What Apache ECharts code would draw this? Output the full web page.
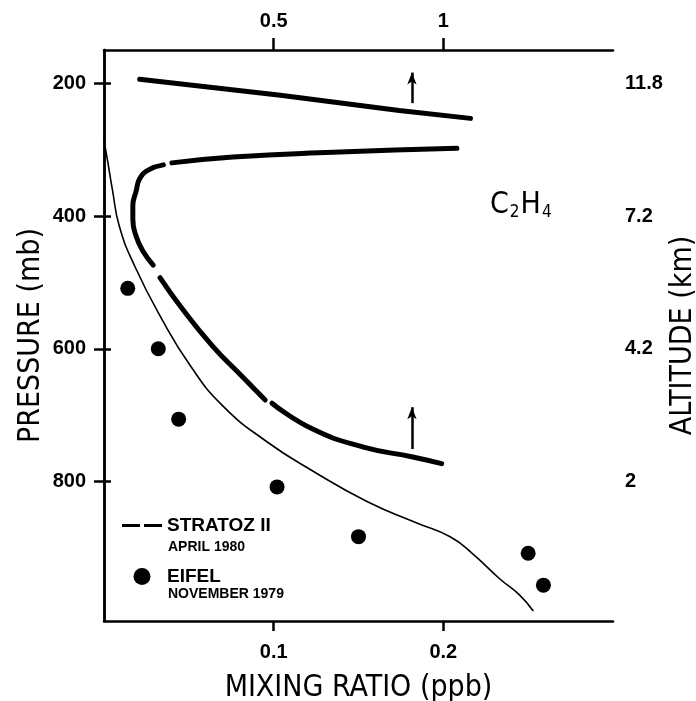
<!DOCTYPE html>
<html>
<head>
<meta charset="utf-8">
<title>C2H4 mixing ratio</title>
<script src="https://cdn.jsdelivr.net/npm/echarts@6/dist/echarts.min.js"></script>
<style>
  html, body { margin: 0; padding: 0; background: #fff; }
  #chart { width: 696px; height: 701px; }
</style>
</head>
<body>
<div id="chart"></div>
<script>
// mixing ratio (ppb) vs pressure (mb)
const pressureTicks = [200, 400, 600, 800]
const altitudeTicks = ['11.8', '7.2', '4.2', '2']
const bottomTicks = [0.1, 0.2]
const topTicks = [0.5, 1]

// STRATOZ II, upper branch (solid)
const stratozTop = [[0.021, 194], [0.104, 218], [0.174, 241], [0.216, 253]]
// STRATOZ II, lower branch ('-' = gap between dashes)
const stratozLower = [
  [0.208, 298], [0.135, 304], [0.076, 311], [0.040, 320],
  ['-', '-'],
  [0.035, 323], [0.026, 331], [0.021, 344], [0.019, 362], [0.017, 385], [0.017, 405], [0.019, 431], [0.023, 453], [0.029, 474],
  ['-', '-'],
  [0.033, 493], [0.045, 536], [0.064, 596], [0.080, 638], [0.095, 677],
  ['-', '-'],
  [0.099, 682], [0.123, 721], [0.153, 748], [0.182, 763], [0.199, 773]
]
// thin curve
const modelCurve = [
  [0.000, 286], [0.002, 315], [0.005, 361], [0.009, 415], [0.018, 475], [0.034, 555],
  [0.051, 626], [0.070, 686], [0.096, 740], [0.123, 784], [0.155, 830],
  [0.184, 862], [0.204, 883], [0.217, 908], [0.233, 946], [0.245, 971], [0.253, 995]
]
// EIFEL, November 1979
const eifel = [
  [0.014, 509], [0.032, 600], [0.044, 706], [0.102, 808], [0.150, 883], [0.250, 908], [0.259, 956]
]
// arrows
const arrowX = 0.1815
const arrowTop = [230, 184]
const arrowLow = [751, 688]

const fontTick = "'Liberation Sans', Arial, sans-serif"
const fontName = "'DejaVu Sans Condensed', 'DejaVu Sans', sans-serif"

const chart = echarts.init(document.getElementById('chart'))

const axisLine = { show: true, lineStyle: { color: '#000', width: 2.5 } }
const tickLabel = { color: '#000', fontFamily: fontTick, fontWeight: 'bold', fontSize: 20 }
const nameStyle = { color: '#000', fontFamily: fontName, fontSize: 30 }

chart.setOption({
  animation: false,
  grid: { left: 104, right: 83, top: 50, bottom: 80, outerBoundsMode: 'none', containLabel: false },
  legend: {
    orient: 'vertical',
    left: 122,
    top: 516,
    padding: 0,
    itemWidth: 40,
    itemHeight: 17,
    itemGap: 32,
    data: [
      { name: 'STRATOZ II', icon: 'path://M0,0h18v3h-18z M22,0h18v3h-18z' },
      { name: 'EIFEL', icon: 'circle' }
    ],
    textStyle: { fontFamily: fontTick, fontWeight: 'bold', fontSize: 19, color: '#000' }
  },
  graphic: [
    {
      type: 'text', left: 168, top: 540,
      style: { text: 'APRIL 1980', font: "bold 14px 'Liberation Sans', Arial, sans-serif", fill: '#000' }
    },
    {
      type: 'text', left: 168, top: 587,
      style: { text: 'NOVEMBER 1979', font: "bold 14px 'Liberation Sans', Arial, sans-serif", fill: '#000' }
    },
    {
      type: 'text', left: 490, top: 190,
      style: {
        text: '{a|C}{b|2}{a|H}{b|4}',
        rich: {
          a: { fontFamily: fontName, fontSize: 30, fill: '#000' },
          b: { fontFamily: fontName, fontSize: 17, fill: '#000', verticalAlign: 'bottom', padding: [16, 1, 0, 1] }
        }
      }
    }
  ],
  xAxis: [
    {
      type: 'value', position: 'bottom', min: 0, max: 0.3,
      name: 'MIXING RATIO (ppb)', nameLocation: 'middle', nameGap: 52, nameMoveOverlap: false,
      nameTextStyle: nameStyle,
      axisLine: axisLine,
      axisTick: { show: true, customValues: bottomTicks, length: 10, lineStyle: { color: '#000', width: 2.5 } },
      axisLabel: Object.assign({ customValues: bottomTicks, margin: 21 }, tickLabel),
      splitLine: { show: false }
    },
    {
      type: 'value', position: 'top', min: 0, max: 1.5,
      axisLine: axisLine,
      axisTick: { show: true, customValues: topTicks, length: 12, lineStyle: { color: '#000', width: 2.5 } },
      axisLabel: Object.assign({ customValues: topTicks, margin: 19 }, tickLabel),
      splitLine: { show: false }
    }
  ],
  yAxis: [
    {
      type: 'value', position: 'left', min: 150, max: 1010, inverse: true,
      name: 'PRESSURE (mb)', nameLocation: 'middle', nameGap: 58, nameRotate: 90, nameMoveOverlap: false,
      nameTextStyle: nameStyle,
      axisLine: axisLine,
      axisTick: { show: true, customValues: pressureTicks, length: 10, lineStyle: { color: '#000', width: 2.5 } },
      axisLabel: Object.assign({ customValues: pressureTicks, margin: 18 }, tickLabel),
      splitLine: { show: false }
    },
    {
      type: 'value', position: 'right', min: 150, max: 1010, inverse: true,
      name: 'ALTITUDE (km)', nameLocation: 'middle', nameGap: 55, nameRotate: 90, nameMoveOverlap: false,
      nameTextStyle: nameStyle,
      axisLine: axisLine,
      axisTick: { show: true, customValues: pressureTicks, length: 7, lineStyle: { color: '#000', width: 2.5 } },
      axisLabel: Object.assign({
        customValues: pressureTicks,
        margin: 12,
        formatter: function (v) { return altitudeTicks[pressureTicks.indexOf(v)] }
      }, tickLabel),
      splitLine: { show: false }
    }
  ],
  series: [
    {
      name: 'STRATOZ II', type: 'line', data: stratozTop,
      showSymbol: false, symbol: 'none',
      lineStyle: { color: '#000', width: 5, cap: 'round' },
      itemStyle: { color: '#000' },
      markLine: {
        silent: true,
        symbol: ['none', 'arrow'],
        symbolSize: [7, 12],
        label: { show: false },
        lineStyle: { color: '#000', width: 2.5, type: 'solid' },
        data: [
          [{ coord: [arrowX, arrowTop[0]] }, { coord: [arrowX, arrowTop[1]] }],
          [{ coord: [arrowX, arrowLow[0]] }, { coord: [arrowX, arrowLow[1]] }]
        ]
      }
    },
    {
      name: 'STRATOZ II', type: 'line', data: stratozLower,
      showSymbol: false, symbol: 'none', smooth: 0.5, connectNulls: false,
      lineStyle: { color: '#000', width: 5, cap: 'round' },
      itemStyle: { color: '#000' }
    },
    {
      name: 'MODEL', type: 'line', data: modelCurve,
      showSymbol: false, symbol: 'none', smooth: 0.5,
      lineStyle: { color: '#000', width: 1.6 }
    },
    {
      name: 'EIFEL', type: 'scatter', data: eifel,
      symbol: 'circle', symbolSize: 15,
      itemStyle: { color: '#000', opacity: 1 }
    }
  ]
})
</script>
</body>
</html>
